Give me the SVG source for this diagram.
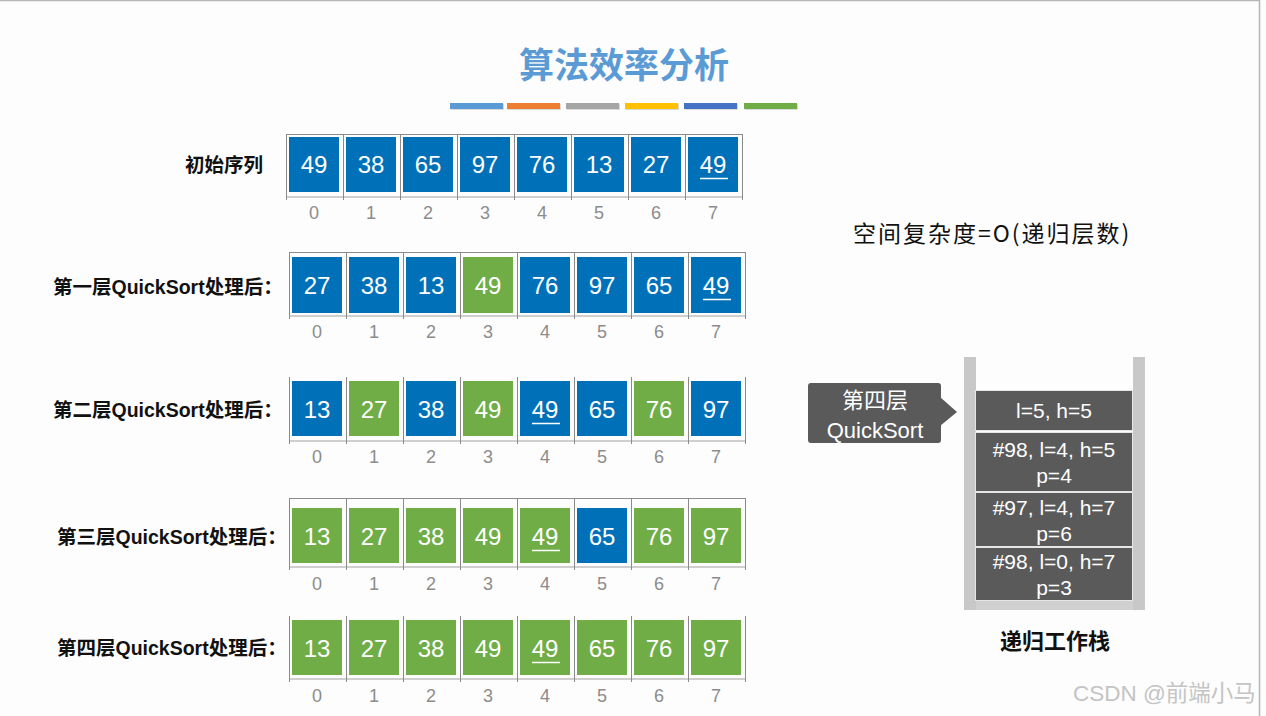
<svg xmlns="http://www.w3.org/2000/svg" width="1266" height="716" viewBox="0 0 1266 716">
<style>
.bg{fill:#fdfdfd}
.b{fill:#0071B9}
.g{fill:#70AD47}
.num{font-family:"Liberation Sans",Arial,sans-serif;font-size:24px;fill:#fff;text-anchor:middle}
.idx{font-family:"Liberation Sans",Arial,sans-serif;font-size:18px;fill:#8c8c8c;text-anchor:middle}
.lbl{font-family:"Liberation Sans","Noto Sans CJK SC",sans-serif;font-size:19.5px;font-weight:bold;fill:#111}
.frame{stroke:#8a8a8a;stroke-width:1;fill:none}
.fbot{stroke:#cfcfcf;stroke-width:2;fill:none}
.ul{stroke:#fff;stroke-width:1.5}
.stk{fill:#5a5a5a;stroke:#e6e6e6;stroke-width:1}
.stt{font-family:"Liberation Sans","Noto Sans CJK SC",sans-serif;font-size:21px;fill:#fff;text-anchor:middle}
.cal{font-family:"Liberation Sans","Noto Sans CJK SC",sans-serif;font-size:22px;fill:#fff;text-anchor:middle}
</style>
<rect class="bg" x="0" y="0" width="1266" height="716"/>
<line x1="0" y1="0.5" x2="1260" y2="0.5" stroke="#b5b5b5" stroke-width="1.5"/>
<line x1="1259.5" y1="0" x2="1259.5" y2="716" stroke="#b5b5b5" stroke-width="1.5"/>

<g id="title">
<text x="624" y="78" font-family="'Noto Sans CJK SC',sans-serif" font-size="35" font-weight="bold" fill="#5B9BD5" text-anchor="middle">算法效率分析</text>
<rect x="451" y="104" width="53" height="6" fill="#b8b8b8" opacity="0.5"/>
<rect x="450" y="103" width="53" height="6" fill="#5B9BD5"/>
<rect x="508" y="104" width="53" height="6" fill="#b8b8b8" opacity="0.5"/>
<rect x="507" y="103" width="53" height="6" fill="#ED7D31"/>
<rect x="567" y="104" width="53" height="6" fill="#b8b8b8" opacity="0.5"/>
<rect x="566" y="103" width="53" height="6" fill="#A5A5A5"/>
<rect x="626" y="104" width="53" height="6" fill="#b8b8b8" opacity="0.5"/>
<rect x="625" y="103" width="53" height="6" fill="#FFC000"/>
<rect x="685" y="104" width="53" height="6" fill="#b8b8b8" opacity="0.5"/>
<rect x="684" y="103" width="53" height="6" fill="#4472C4"/>
<rect x="745" y="104" width="53" height="6" fill="#b8b8b8" opacity="0.5"/>
<rect x="744" y="103" width="53" height="6" fill="#70AD47"/>
</g>

<!-- Row 1 -->
<g id="row1">
<text class="lbl" x="185" y="172">初始序列</text>
<path class="fbot" d="M286 197H743"/>
<path class="frame" d="M286 134.5H743M286.5 134V200M343.5 134V200M400.5 134V200M457.5 134V200M514.5 134V200M571.5 134V200M628.5 134V200M685.5 134V200M742.5 134V200"/>
<rect class="b" x="289" y="137" width="50" height="55"/>
<rect class="b" x="346" y="137" width="50" height="55"/>
<rect class="b" x="403" y="137" width="50" height="55"/>
<rect class="b" x="460" y="137" width="50" height="55"/>
<rect class="b" x="517" y="137" width="50" height="55"/>
<rect class="b" x="574" y="137" width="50" height="55"/>
<rect class="b" x="631" y="137" width="50" height="55"/>
<rect class="b" x="688" y="137" width="50" height="55"/>
<text class="num" x="314" y="173">49</text>
<text class="num" x="371" y="173">38</text>
<text class="num" x="428" y="173">65</text>
<text class="num" x="485" y="173">97</text>
<text class="num" x="542" y="173">76</text>
<text class="num" x="599" y="173">13</text>
<text class="num" x="656" y="173">27</text>
<text class="num" x="713" y="173">49</text>
<line class="ul" x1="700" y1="178.5" x2="728" y2="178.5"/>
<text class="idx" x="314" y="219">0</text>
<text class="idx" x="371" y="219">1</text>
<text class="idx" x="428" y="219">2</text>
<text class="idx" x="485" y="219">3</text>
<text class="idx" x="542" y="219">4</text>
<text class="idx" x="599" y="219">5</text>
<text class="idx" x="656" y="219">6</text>
<text class="idx" x="713" y="219">7</text>
</g>

<!-- Row 2 -->
<g id="row2">
<text class="lbl" x="53" y="294">第一层QuickSort处理后：</text>
<path class="fbot" d="M289 316H746"/>
<path class="frame" d="M289 252.5H746M289.5 252V319M346.5 252V319M403.5 252V319M460.5 252V319M517.5 252V319M574.5 252V319M631.5 252V319M688.5 252V319M745.5 252V319"/>
<rect class="b" x="292" y="257" width="50" height="56"/>
<rect class="b" x="349" y="257" width="50" height="56"/>
<rect class="b" x="406" y="257" width="50" height="56"/>
<rect class="g" x="463" y="257" width="50" height="56"/>
<rect class="b" x="520" y="257" width="50" height="56"/>
<rect class="b" x="577" y="257" width="50" height="56"/>
<rect class="b" x="634" y="257" width="50" height="56"/>
<rect class="b" x="691" y="257" width="50" height="56"/>
<text class="num" x="317" y="294">27</text>
<text class="num" x="374" y="294">38</text>
<text class="num" x="431" y="294">13</text>
<text class="num" x="488" y="294">49</text>
<text class="num" x="545" y="294">76</text>
<text class="num" x="602" y="294">97</text>
<text class="num" x="659" y="294">65</text>
<text class="num" x="716" y="294">49</text>
<line class="ul" x1="703" y1="299.5" x2="731" y2="299.5"/>
<text class="idx" x="317" y="338">0</text>
<text class="idx" x="374" y="338">1</text>
<text class="idx" x="431" y="338">2</text>
<text class="idx" x="488" y="338">3</text>
<text class="idx" x="545" y="338">4</text>
<text class="idx" x="602" y="338">5</text>
<text class="idx" x="659" y="338">6</text>
<text class="idx" x="716" y="338">7</text>
</g>

<!-- Row 3 -->
<g id="row3">
<text class="lbl" x="53" y="417">第二层QuickSort处理后：</text>
<path class="fbot" d="M289 441H746"/>
<path class="frame" d="M289.5 377V444M346.5 377V444M403.5 377V444M460.5 377V444M517.5 377V444M574.5 377V444M631.5 377V444M688.5 377V444M745.5 377V444"/>
<rect class="b" x="292" y="381" width="50" height="55"/>
<rect class="g" x="349" y="381" width="50" height="55"/>
<rect class="b" x="406" y="381" width="50" height="55"/>
<rect class="g" x="463" y="381" width="50" height="55"/>
<rect class="b" x="520" y="381" width="50" height="55"/>
<rect class="b" x="577" y="381" width="50" height="55"/>
<rect class="g" x="634" y="381" width="50" height="55"/>
<rect class="b" x="691" y="381" width="50" height="55"/>
<text class="num" x="317" y="418">13</text>
<text class="num" x="374" y="418">27</text>
<text class="num" x="431" y="418">38</text>
<text class="num" x="488" y="418">49</text>
<text class="num" x="545" y="418">49</text>
<text class="num" x="602" y="418">65</text>
<text class="num" x="659" y="418">76</text>
<text class="num" x="716" y="418">97</text>
<line class="ul" x1="532" y1="423.5" x2="560" y2="423.5"/>
<text class="idx" x="317" y="463">0</text>
<text class="idx" x="374" y="463">1</text>
<text class="idx" x="431" y="463">2</text>
<text class="idx" x="488" y="463">3</text>
<text class="idx" x="545" y="463">4</text>
<text class="idx" x="602" y="463">5</text>
<text class="idx" x="659" y="463">6</text>
<text class="idx" x="716" y="463">7</text>
</g>

<!-- Row 4 -->
<g id="row4">
<text class="lbl" x="57" y="544">第三层QuickSort处理后：</text>
<path class="fbot" d="M289 567H746"/>
<path class="frame" d="M289 498.5H746M289.5 498V570M346.5 498V570M403.5 498V570M460.5 498V570M517.5 498V570M574.5 498V570M631.5 498V570M688.5 498V570M745.5 498V570"/>
<rect class="g" x="292" y="508" width="50" height="55"/>
<rect class="g" x="349" y="508" width="50" height="55"/>
<rect class="g" x="406" y="508" width="50" height="55"/>
<rect class="g" x="463" y="508" width="50" height="55"/>
<rect class="g" x="520" y="508" width="50" height="55"/>
<rect class="b" x="577" y="508" width="50" height="55"/>
<rect class="g" x="634" y="508" width="50" height="55"/>
<rect class="g" x="691" y="508" width="50" height="55"/>
<text class="num" x="317" y="545">13</text>
<text class="num" x="374" y="545">27</text>
<text class="num" x="431" y="545">38</text>
<text class="num" x="488" y="545">49</text>
<text class="num" x="545" y="545">49</text>
<text class="num" x="602" y="545">65</text>
<text class="num" x="659" y="545">76</text>
<text class="num" x="716" y="545">97</text>
<line class="ul" x1="532" y1="550.5" x2="560" y2="550.5"/>
<text class="idx" x="317" y="590">0</text>
<text class="idx" x="374" y="590">1</text>
<text class="idx" x="431" y="590">2</text>
<text class="idx" x="488" y="590">3</text>
<text class="idx" x="545" y="590">4</text>
<text class="idx" x="602" y="590">5</text>
<text class="idx" x="659" y="590">6</text>
<text class="idx" x="716" y="590">7</text>
</g>

<!-- Row 5 -->
<g id="row5">
<text class="lbl" x="57" y="655">第四层QuickSort处理后：</text>
<path class="fbot" d="M289 679H746"/>
<path class="frame" d="M289.5 616V682M346.5 616V682M403.5 616V682M460.5 616V682M517.5 616V682M574.5 616V682M631.5 616V682M688.5 616V682M745.5 616V682"/>
<rect class="g" x="292" y="620" width="50" height="55"/>
<rect class="g" x="349" y="620" width="50" height="55"/>
<rect class="g" x="406" y="620" width="50" height="55"/>
<rect class="g" x="463" y="620" width="50" height="55"/>
<rect class="g" x="520" y="620" width="50" height="55"/>
<rect class="g" x="577" y="620" width="50" height="55"/>
<rect class="g" x="634" y="620" width="50" height="55"/>
<rect class="g" x="691" y="620" width="50" height="55"/>
<text class="num" x="317" y="657">13</text>
<text class="num" x="374" y="657">27</text>
<text class="num" x="431" y="657">38</text>
<text class="num" x="488" y="657">49</text>
<text class="num" x="545" y="657">49</text>
<text class="num" x="602" y="657">65</text>
<text class="num" x="659" y="657">76</text>
<text class="num" x="716" y="657">97</text>
<line class="ul" x1="532" y1="662.5" x2="560" y2="662.5"/>
<text class="idx" x="317" y="702">0</text>
<text class="idx" x="374" y="702">1</text>
<text class="idx" x="431" y="702">2</text>
<text class="idx" x="488" y="702">3</text>
<text class="idx" x="545" y="702">4</text>
<text class="idx" x="602" y="702">5</text>
<text class="idx" x="659" y="702">6</text>
<text class="idx" x="716" y="702">7</text>
</g>

<g id="complexity">
<text x="853" y="242" font-family="'Noto Sans CJK SC',sans-serif" font-size="23" letter-spacing="2" fill="#111">空间复杂度=O(递归层数)</text>
</g>

<g id="stack">
<rect x="964" y="357" width="12" height="253" fill="#c8c8c8"/>
<rect x="1133" y="357" width="12" height="253" fill="#c8c8c8"/>
<rect x="976" y="601" width="157" height="9" fill="#d0d0d0"/>
<rect class="stk" x="975.5" y="390.5" width="157" height="40"/>
<text class="stt" x="1054" y="418">l=5, h=5</text>
<rect class="stk" x="975.5" y="432.5" width="157" height="59"/>
<text class="stt" x="1054" y="457">#98, l=4, h=5</text>
<text class="stt" x="1054" y="483">p=4</text>
<rect class="stk" x="975.5" y="492.5" width="157" height="54"/>
<text class="stt" x="1054" y="515">#97, l=4, h=7</text>
<text class="stt" x="1054" y="541">p=6</text>
<rect class="stk" x="975.5" y="547.5" width="157" height="53"/>
<text class="stt" x="1054" y="569">#98, l=0, h=7</text>
<text class="stt" x="1054" y="595">p=3</text>
<text x="1055" y="649" font-family="'Noto Sans CJK SC',sans-serif" font-size="22" font-weight="bold" fill="#111" text-anchor="middle">递归工作栈</text>
</g>

<g id="callout">
<rect x="808" y="383" width="133" height="60" rx="3" fill="#5a5a5a"/>
<polygon points="940,397 957,412 940,426" fill="#5a5a5a"/>
<text class="cal" x="875" y="408">第四层</text>
<text class="cal" x="875" y="438">QuickSort</text>
</g>

<text x="1073" y="701" font-family="'Liberation Sans','Noto Sans CJK SC',sans-serif" font-size="22.5" fill="#c4c4c4">CSDN @前端小马</text>
</svg>
